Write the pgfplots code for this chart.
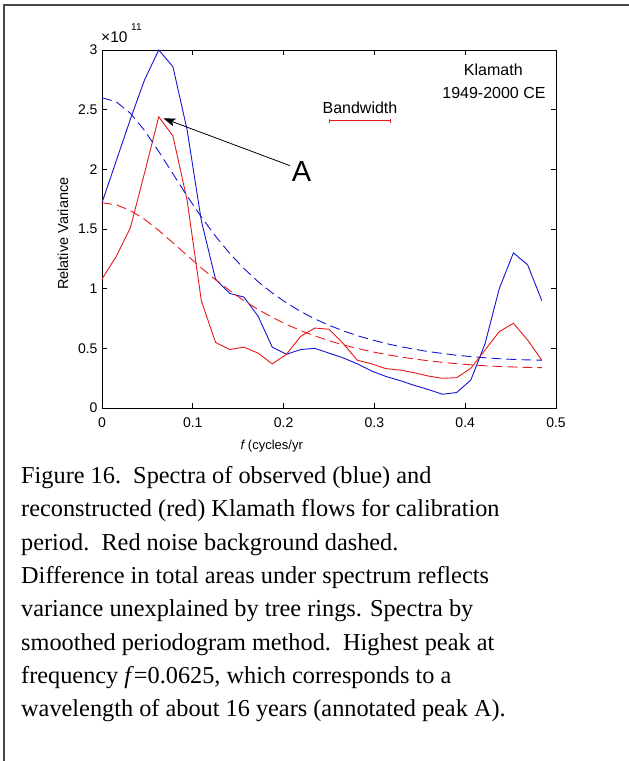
\documentclass[border=0pt]{standalone}
\usepackage{fontspec}
\setmainfont{Liberation Serif}
\newfontfamily\arial{Liberation Sans}
\usepackage{pgfplots}
\pgfplotsset{compat=1.18}
\usepackage{pgfplotstable}
\usetikzlibrary{arrows.meta}
\definecolor{mblue}{RGB}{20,20,215}
\definecolor{mred}{RGB}{232,25,25}

% f = k/64 ; obs = observed ; rec = reconstructed ; *rn = red-noise background  (x 1e11)
\pgfplotstableread{
f        obs    rec    obsrn  recrn
0        1.72   1.08   2.600  1.720
0.015625 2.07   1.27   2.566  1.703
0.03125  2.42   1.51   2.470  1.655
0.046875 2.75   1.97   2.325  1.581
0.0625   3.00   2.44   2.150  1.488
0.078125 2.86   2.28   1.963  1.385
0.09375  2.33   1.74   1.776  1.279
0.109375 1.57   0.90   1.601  1.174
0.125    1.08   0.55   1.440  1.075
0.140625 0.96   0.49   1.296  0.984
0.15625  0.93   0.51   1.170  0.900
0.171875 0.77   0.46   1.059  0.826
0.1875   0.51   0.37   0.964  0.760
0.203125 0.45   0.45   0.881  0.701
0.21875  0.49   0.60   0.809  0.649
0.234375 0.50   0.67   0.747  0.604
0.25     0.46   0.66   0.693  0.564
0.265625 0.42   0.54   0.647  0.529
0.28125  0.37   0.40   0.606  0.499
0.296875 0.31   0.37   0.572  0.472
0.3125   0.265  0.33   0.541  0.449
0.328125 0.23   0.318  0.515  0.429
0.34375  0.19   0.296  0.493  0.411
0.359375 0.155  0.268  0.473  0.396
0.375    0.115  0.249  0.457  0.383
0.390625 0.13   0.254  0.442  0.371
0.40625  0.235  0.333  0.431  0.362
0.421875 0.54   0.486  0.421  0.354
0.4375   1.00   0.64   0.413  0.348
0.453125 1.30   0.71   0.407  0.344
0.46875  1.20   0.57   0.403  0.340
0.484375 0.90   0.40   0.401  0.338
}\spectra

\begin{document}
\begin{tikzpicture}
\path[use as bounding box] (0pt,0pt) rectangle (629pt,-761pt);
\draw[line width=1.4pt, black!72] (4pt,-761pt) -- (4pt,-5pt) -- (629pt,-5pt);
\begin{axis}[
  at={(102pt,-408pt)}, anchor=south west,
  scale only axis, width=454pt, height=358pt,
  xmin=0, xmax=0.5, ymin=0, ymax=3,
  xtick={0,0.1,0.2,0.3,0.4,0.5},
  ytick={0,0.5,1,1.5,2,2.5,3},
  xtick pos=both, ytick pos=both,
  tick align=inside, major tick length=5pt,
  axis line style={line width=0.8pt},
  every tick/.style={black, line width=0.8pt},
  tick label style={font=\arial\fontsize{14}{16}\selectfont},
  xticklabel style={yshift=-6pt},
  yticklabel style={xshift=-1pt},
  /pgf/number format/assume math mode=true,
  xlabel={{\itshape f} (cycles/yr},
  xlabel style={font=\arial\fontsize{13}{15}\selectfont, at={(axis description cs:0.374,-0.106)}, anchor=center},
  ylabel={Relative Variance},
  ylabel style={font=\arial\fontsize{14.5}{16}\selectfont, at={(axis description cs:-0.086,0.487)}, anchor=center},
  clip=false,
]
\addplot[mblue, line width=0.9pt] table[x=f, y=obs] {\spectra};
\addplot[mred, line width=0.9pt] table[x=f, y=rec] {\spectra};
\addplot[mblue, line width=0.9pt, dash pattern=on 10pt off 5pt] table[x=f, y=obsrn] {\spectra};
\addplot[mred, line width=0.9pt, dash pattern=on 10pt off 5pt] table[x=f, y=recrn] {\spectra};

\draw[black, line width=0.8pt, -{Stealth[length=12pt,width=8pt,inset=2.5pt]}] (axis cs:0.207,2.031) -- (axis cs:0.0675,2.428);
\node[font=\arial\fontsize{29}{32}\selectfont, inner sep=0] at (axis cs:0.2199,1.981) {A};

\draw[mred, line width=0.8pt, {Bar[width=4pt]}-{Bar[width=4pt]}] (axis cs:0.2503,2.406) -- (axis cs:0.3184,2.406);
\node[font=\arial\fontsize{16}{18}\selectfont, inner sep=0] at (axis cs:0.2841,2.517) {Bandwidth};
\node[font=\arial\fontsize{16}{18}\selectfont, inner sep=0] at (axis cs:0.431,2.833) {Klamath};
\node[font=\arial\fontsize{16}{18}\selectfont, inner sep=0] at (axis cs:0.4317,2.643) {1949-2000 CE};
\end{axis}
\node[anchor=base west, inner sep=0, font=\arial\fontsize{15.5}{17}\selectfont] at (101pt,-42.7pt) {×10};
\node[anchor=base west, inner sep=0, font=\arial\fontsize{10}{12}\selectfont] at (131pt,-30.7pt) {11};

\begin{scope}[every node/.style={anchor=base west, inner sep=0, font=\fontsize{24.3}{33}\selectfont}]
\node at (21pt,-483.3pt) {Figure 16.\ \ Spectra of observed (blue) and};
\node at (21pt,-516.7pt) {reconstructed (red) Klamath flows for calibration};
\node at (21pt,-550.0pt) {period.\ \ Red noise background dashed.};
\node at (21pt,-583.3pt) {Difference in total areas under spectrum reflects};
\node at (21pt,-616.7pt) {variance unexplained by tree rings. Spectra by};
\node at (21pt,-650.0pt) {smoothed periodogram method.\ \ Highest peak at};
\node at (21pt,-683.3pt) {frequency \textit{f}=0.0625, which corresponds to a};
\node at (21pt,-716.7pt) {wavelength of about 16 years (annotated peak A).};
\end{scope}
\end{tikzpicture}
\end{document}
